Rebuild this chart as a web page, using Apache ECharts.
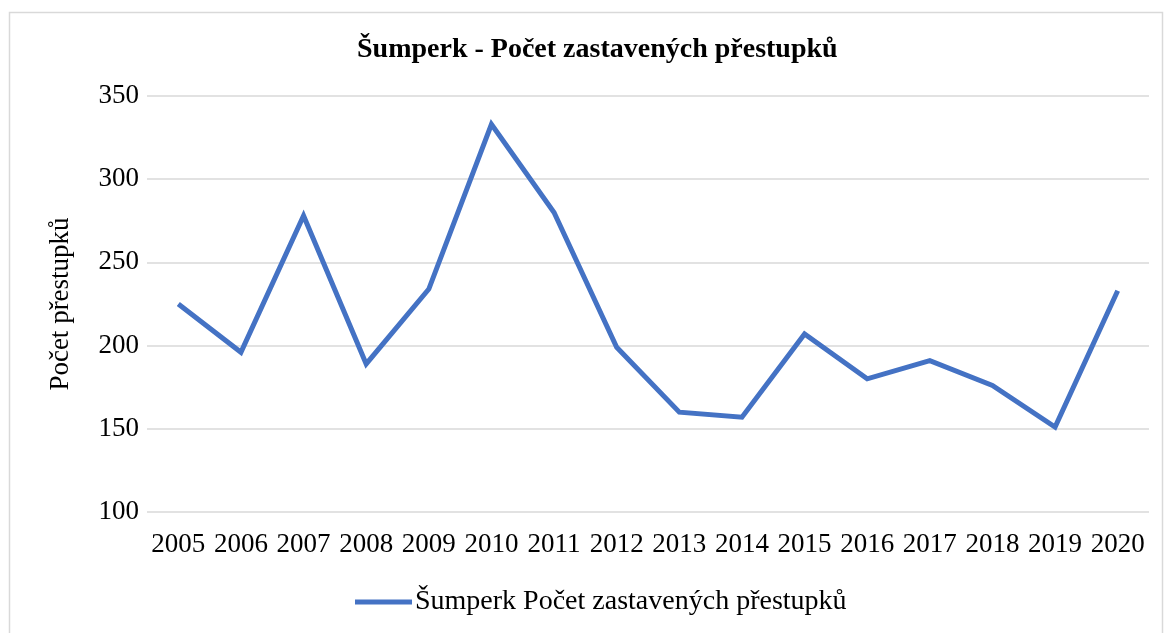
<!DOCTYPE html>
<html>
<head>
<meta charset="utf-8">
<script src="https://cdn.jsdelivr.net/npm/echarts@6/dist/echarts.min.js"></script>
<style>
  html, body { margin: 0; padding: 0; background: #fff; }
  #chart { width: 1169px; height: 633px; }
</style>
</head>
<body>
<div id="chart"></div>
<script>
// roky a hodnoty
const years = ['2005', '2006', '2007', '2008', '2009', '2010', '2011', '2012',
  '2013', '2014', '2015', '2016', '2017', '2018', '2019', '2020'];
const offences = [225, 196, 278, 189, 234, 333, 280, 199, 160, 157, 207, 180, 191, 176, 151, 233];
const seriesName = 'Šumperk Počet zastavených přestupků';

const font = '"Liberation Serif", "Times New Roman", serif';

const chart = echarts.init(document.getElementById('chart'));
chart.setOption({
  animation: false,
  graphic: [{
    type: 'rect',
    left: 7, top: 10,
    shape: { width: 1153, height: 640 },
    style: { fill: 'none', stroke: '#d9d9d9', lineWidth: 1.5 }
  }],
  title: {
    text: 'Šumperk - Počet zastavených přestupků',
    left: 352,
    top: 31,
    textStyle: { fontFamily: font, fontWeight: 'bold', fontSize: 28, color: '#000' }
  },
  legend: {
    bottom: 12,
    left: 350,
    itemWidth: 57,
    itemHeight: 5,
    icon: 'rect',
    itemGap: 10,
    textStyle: { fontFamily: font, fontSize: 28, color: '#000', padding: [0, 0, 0, -2] },
    data: [seriesName]
  },
  grid: { left: 147, right: 20, top: 96, bottom: 121 },
  xAxis: {
    type: 'category',
    data: years,
    boundaryGap: true,
    axisLine: { show: false },
    axisTick: { show: false },
    axisLabel: { interval: 0, margin: 19, fontFamily: font, fontSize: 27, color: '#000' }
  },
  yAxis: {
    type: 'value',
    min: 100,
    max: 350,
    interval: 50,
    name: 'Počet přestupků',
    nameLocation: 'middle',
    nameRotate: 90,
    nameGap: 73,
    nameTextStyle: { fontFamily: font, fontSize: 27, color: '#000' },
    axisLine: { show: false },
    axisTick: { show: false },
    axisLabel: { margin: 8, fontFamily: font, fontSize: 27, color: '#000' },
    splitLine: { lineStyle: { color: '#d9d9d9', width: 1.5 } }
  },
  series: [{
    name: seriesName,
    type: 'line',
    data: offences,
    symbol: 'none',
    lineStyle: { color: '#4472c4', width: 5, join: 'miter' },
    itemStyle: { color: '#4472c4' }
  }]
});
</script>
</body>
</html>
